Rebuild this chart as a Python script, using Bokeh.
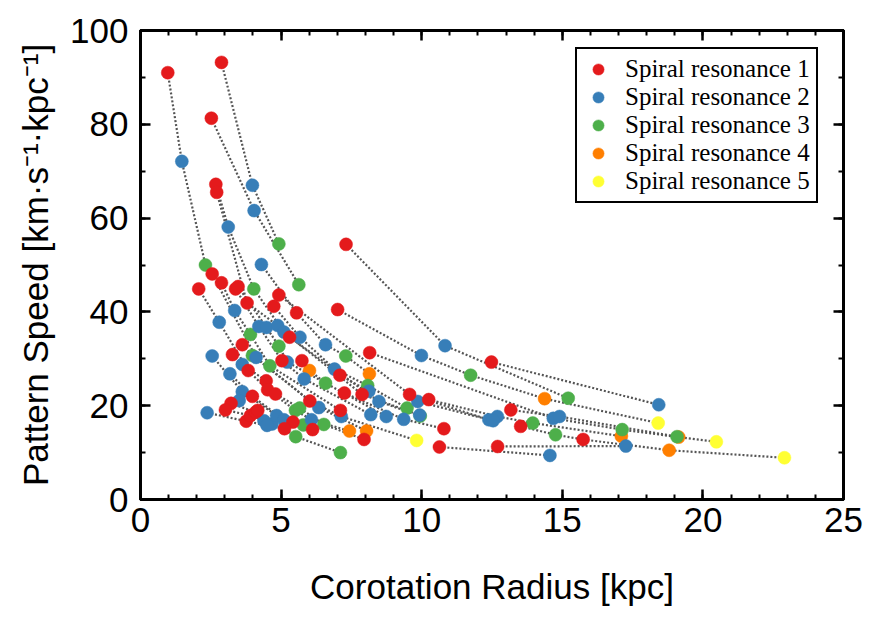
from bokeh.plotting import figure
from bokeh.models import Range1d, LinearAxis, Legend, LegendItem, FixedTicker
from bokeh.embed import file_html
from bokeh.resources import INLINE

# Corotation radius [kpc] and pattern speed [km/s/kpc] for each resonance,
# with the galaxy each measurement belongs to (points of one galaxy are joined).
res1_radius = [0.97, 2.88, 2.52, 2.68, 2.71, 7.31, 2.55, 2.88, 2.07, 3.38, 3.47, 4.92, 4.74, 3.79,
               5.55, 7.01, 5.30, 3.62, 3.27, 5.03, 5.74, 3.83, 7.09, 4.47, 4.52, 4.80, 7.25, 7.11,
               3.98, 3.22, 3.02, 3.76, 3.91, 4.09, 4.17, 5.42, 5.12, 6.02, 6.12, 8.15, 12.48, 7.88,
               9.57, 10.25, 10.79, 10.63, 12.70, 7.95, 13.17, 13.52, 15.74]
res1_speed = [91.0, 93.2, 81.3, 67.2, 65.5, 54.4, 48.1, 46.2, 44.9, 44.9, 45.4, 43.6, 41.2, 41.9,
              39.8, 40.5, 34.6, 33.0, 30.9, 29.6, 29.6, 27.5, 26.5, 25.3, 23.4, 22.5, 22.7, 19.0,
              22.0, 20.5, 19.1, 16.7, 17.9, 18.6, 19.0, 16.5, 15.1, 21.0, 14.9, 31.3, 29.3, 22.4,
              22.4, 21.3, 15.1, 11.2, 11.3, 12.8, 19.1, 15.6, 12.8]
res1_galaxy = [1, 2, 3, 4, 5, 15, 26, 25, 28, 22, 23, 8, 6, 5,
               10, 14, 5, 27, 29, 22, 20, 28, 7, 29, 28, 29, 21, 25,
               31, 34, 33, 32, 33, 34, 34, 30, 32, 26, 31, 12, 16, 4,
               8, 11, 21, 19, 18, 29, 13, 17, 17]

res2_radius = [1.47, 3.98, 4.04, 3.12, 4.30, 3.35, 2.80, 4.21, 4.48, 4.88, 5.10, 5.67, 6.58, 2.55,
               4.11, 5.22, 3.18, 3.62, 5.82, 6.90, 3.62, 3.51, 2.37, 4.39, 4.68, 4.84, 4.50, 5.10,
               6.34, 6.08, 7.14, 9.99, 10.83, 8.12, 8.48, 9.86, 8.19, 8.74, 9.36, 9.93, 12.39,
               12.69, 12.54, 14.68, 14.90, 14.56, 18.43, 17.26]
res2_speed = [72.1, 67.0, 61.6, 58.1, 50.1, 40.3, 37.8, 36.9, 36.7, 37.1, 35.7, 34.6, 33.0, 30.6,
              30.3, 29.3, 26.8, 28.8, 25.7, 27.8, 23.0, 21.1, 18.5, 16.8, 16.1, 17.9, 15.8, 17.0,
              19.6, 17.0, 17.7, 30.7, 32.8, 23.1, 20.9, 20.9, 18.1, 17.7, 17.1, 18.0, 17.0,
              17.7, 16.8, 17.3, 17.7, 9.4, 20.2, 11.4]
res2_galaxy = [1, 2, 3, 4, 10, 25, 28, 22, 23, 5, 4, 6, 10, 30,
               26, 23, 31, 29, 22, 6, 30, 35, 32, 33, 33, 30, 32, 31,
               27, 28, 26, 14, 15, 7, 5, 9, 22, 23, 21, 4, 8,
               11, 9, 12, 13, 19, 16, 18]

res3_radius = [2.31, 4.92, 5.63, 4.03, 3.91, 4.92, 3.98, 4.60, 7.30, 6.58, 5.51, 5.66, 5.79, 6.52,
               5.52, 7.11, 11.74, 8.08, 9.48, 9.95, 13.95, 15.21, 14.76, 17.13, 19.08]
res3_speed = [50.0, 54.5, 45.8, 44.9, 35.2, 32.7, 30.7, 28.5, 30.6, 24.8, 19.0, 19.5, 15.9, 16.0,
              13.4, 10.0, 26.5, 24.3, 19.5, 17.8, 16.3, 21.6, 13.8, 14.9, 13.4]
res3_galaxy = [1, 2, 3, 4, 25, 23, 27, 25, 10, 20, 28, 29, 30, 29,
               32, 32, 14, 6, 6, 5, 11, 15, 17, 12, 13]

res4_radius = [6.01, 8.14, 7.43, 8.04, 14.37, 17.10, 19.14, 18.80]
res4_speed = [27.5, 26.8, 14.6, 14.6, 21.5, 13.5, 13.3, 10.5]
res4_galaxy = [20, 10, 28, 27, 14, 11, 12, 17]

res5_radius = [9.82, 18.41, 20.48, 22.90]
res5_speed = [12.6, 16.3, 12.3, 8.9]
res5_galaxy = [26, 14, 12, 17]

series = [
    ("Spiral resonance 1", res1_radius, res1_speed, res1_galaxy, "#e41a1c"),
    ("Spiral resonance 2", res2_radius, res2_speed, res2_galaxy, "#377eb8"),
    ("Spiral resonance 3", res3_radius, res3_speed, res3_galaxy, "#4daf4a"),
    ("Spiral resonance 4", res4_radius, res4_speed, res4_galaxy, "#ff7f00"),
    ("Spiral resonance 5", res5_radius, res5_speed, res5_galaxy, "#ffff33"),
]

FONT = "Liberation Sans"

p = figure(width=890, height=622, output_backend="svg", toolbar_location=None,
           x_range=Range1d(0, 25), y_range=Range1d(0, 100),
           min_border_left=140, min_border_right=47, min_border_top=30, min_border_bottom=123)
p.grid.visible = False
p.outline_line_color = "black"
p.outline_line_width = 3
p.outline_line_alpha = 1
p.background_fill_color = "white"
p.border_fill_color = "white"

# group the measurements per galaxy and join them in order of radius
galaxies = {}
for _, xs, ys, gs, _ in series:
    for x, y, g in zip(xs, ys, gs):
        galaxies.setdefault(g, []).append((x, y))
line_xs, line_ys = [], []
for g, pts in galaxies.items():
    if len(pts) > 1:
        pts = sorted(pts)
        line_xs.append([q[0] for q in pts])
        line_ys.append([q[1] for q in pts])
p.multi_line(line_xs, line_ys, line_color="#555555", line_width=2.2, line_dash="2 2")

renderers = {}
for label, xs, ys, gs, color in reversed(series):
    renderers[label] = p.scatter(xs, ys, size=13, fill_color=color, line_color=color, line_width=0.5)

legend = Legend(items=[LegendItem(label=s[0], renderers=[renderers[s[0]]]) for s in series],
                location=(435, 296))
legend.label_text_font = "Liberation Serif"
legend.label_text_font_size = "25px"
legend.label_text_color = "black"
legend.glyph_width = 30
legend.glyph_height = 28
legend.label_height = 28
legend.spacing = 0
legend.padding = 6
legend.margin = 0
legend.label_standoff = 12
legend.border_line_color = "black"
legend.border_line_width = 2.5
legend.border_line_alpha = 1
p.add_layout(legend, "center")

def style_axis(ax, labels=True):
    ax.axis_line_width = 3
    ax.axis_line_color = "black"
    ax.major_tick_in = 10
    ax.major_tick_out = 0
    ax.minor_tick_in = 5
    ax.minor_tick_out = 0
    ax.major_tick_line_width = 2.5
    ax.minor_tick_line_width = 2
    ax.major_tick_line_color = "black"
    ax.minor_tick_line_color = "black"
    ax.major_label_text_font = FONT
    ax.major_label_text_font_size = "35px"
    ax.major_label_text_color = "black"
    ax.axis_label_text_font = FONT
    ax.axis_label_text_font_size = "35px"
    ax.axis_label_text_font_style = "normal"
    ax.axis_label_text_color = "black"
    if not labels:
        ax.major_label_text_color = None

xticks = FixedTicker(ticks=[0, 5, 10, 15, 20, 25], minor_ticks=list(range(0, 26)))
yticks = FixedTicker(ticks=[0, 20, 40, 60, 80, 100], minor_ticks=list(range(0, 101, 10)))

p.xaxis.ticker = xticks
p.yaxis.ticker = yticks
style_axis(p.xaxis[0])
style_axis(p.yaxis[0])
p.xaxis.axis_label = "Corotation Radius [kpc]"
p.yaxis.axis_label = "Pattern Speed [km·s⁻¹·kpc⁻¹]"
p.xaxis.major_label_standoff = 8
p.yaxis.major_label_standoff = 12
p.xaxis.axis_label_standoff = 32
p.yaxis.axis_label_standoff = 12

top = LinearAxis(ticker=xticks)
right = LinearAxis(ticker=yticks)
style_axis(top, labels=False)
style_axis(right, labels=False)
p.add_layout(top, "above")
p.add_layout(right, "right")

open("out.html", "w").write(file_html(p, INLINE))
